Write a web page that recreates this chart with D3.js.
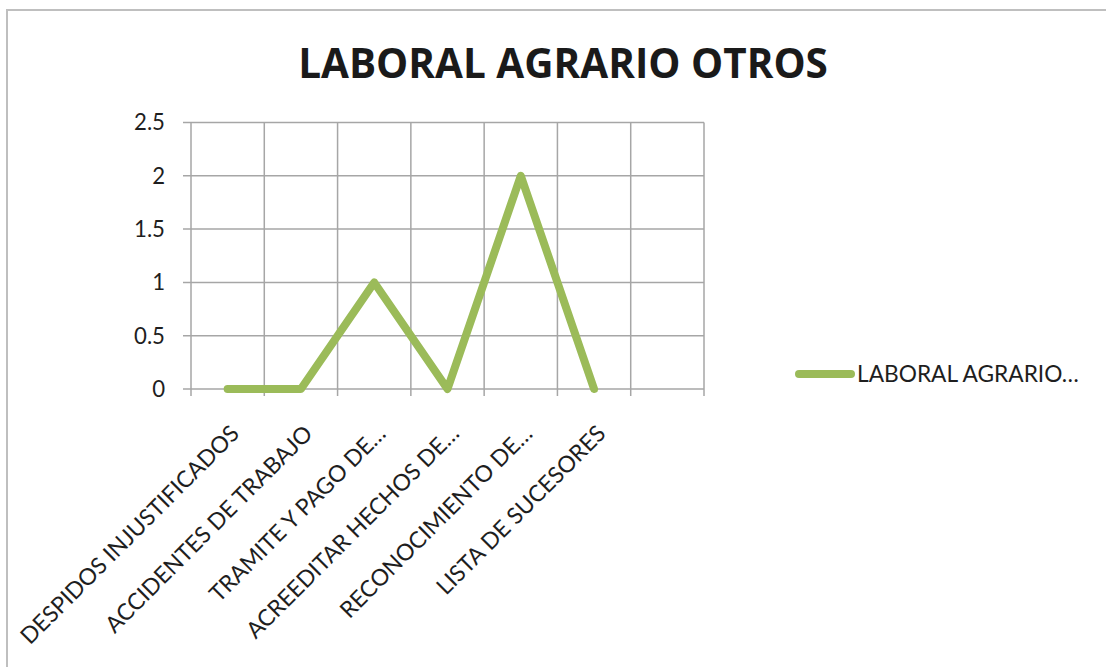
<!DOCTYPE html>
<html><head><meta charset="utf-8">
<script src="https://cdn.jsdelivr.net/npm/d3@7"></script>
<style>html,body{margin:0;padding:0;background:#fff;} svg{display:block;}</style>
</head><body>
<svg id="c" width="1106" height="667"></svg>
<script>
const categories = ["DESPIDOS INJUSTIFICADOS","ACCIDENTES DE TRABAJO","TRAMITE Y PAGO DE…","ACREEDITAR HECHOS DE…","RECONOCIMIENTO DE…","LISTA DE SUCESORES",""];
const values = [0,0,1,0,2,0];
const yTicks = [0,0.5,1,1.5,2,2.5];
const seriesName = "LABORAL AGRARIO…";
const title = "LABORAL AGRARIO OTROS";

const svg = d3.select("#c");
const font = "Lato, 'Open Sans', sans-serif";
const titleFont = "'Open Sans', 'Noto Sans', sans-serif";
const pL = 191, pR = 704, pT = 122.5, pB = 389;
const green = "#9BBB59", grid = "#A6A6A6";

// fit font size so a text node reaches a target width
function fit(sel, base, target){
  sel.attr("font-size", base);
  const w = sel.node().getComputedTextLength();
  const fs = base*target/w;
  sel.attr("font-size", fs);
  return fs;
}

svg.append("rect").attr("x",7).attr("y",10).attr("width",1120).attr("height",700)
  .attr("fill","#fff").attr("stroke","#BFBFBF").attr("stroke-width",2);

const x = d3.scaleBand().domain(d3.range(categories.length)).range([pL,pR]).paddingInner(0).paddingOuter(0);
const y = d3.scaleLinear().domain([0,2.5]).range([pB,pT]);

// horizontal grid
svg.append("g").selectAll("line").data(yTicks).join("line")
  .attr("x1",pL-8).attr("x2",pR).attr("y1",d=>y(d)).attr("y2",d=>y(d))
  .attr("stroke",grid).attr("stroke-width",1.5);
// vertical grid
const vx = d3.range(categories.length+1).map(i=> i<categories.length ? x(i) : pR);
svg.append("g").selectAll("line").data(vx).join("line")
  .attr("x1",d=>d).attr("x2",d=>d).attr("y1",pT).attr("y2",pB+7)
  .attr("stroke",grid).attr("stroke-width",1.5);

// y labels
const yl = svg.append("g").selectAll("text").data(yTicks).join("text")
  .attr("x",165).attr("y",d=>y(d)).attr("dy","0.36em").attr("text-anchor","end")
  .attr("font-family",font).attr("fill","#1e1e1e")
  .text(d=>d);
const yfs = fit(yl.filter(d=>d===2.5), 18, 31);
yl.attr("font-size", yfs);

// x labels
const xl = svg.append("g").selectAll("text").data(categories).join("text")
  .attr("text-anchor","end").attr("font-family",font).attr("fill","#1e1e1e")
  .attr("transform",(d,i)=>`translate(${x(i)+x.bandwidth()/2+13},${pB+46}) rotate(-45)`)
  .text(d=>d);
const xfs = fit(xl.filter((d,i)=>i===0), 18, 298);
xl.attr("font-size", xfs);

// line
const line = d3.line().x((d,i)=>x(i)+x.bandwidth()/2).y(d=>y(d));
svg.append("path").datum(values).attr("d",line).attr("fill","none")
  .attr("stroke",green).attr("stroke-width",8).attr("stroke-linejoin","round").attr("stroke-linecap","round");

// title
const t = svg.append("text").attr("x",563).attr("y",78).attr("text-anchor","middle")
  .attr("font-family",titleFont).attr("font-weight","bold").attr("fill","#1a1a1a").text(title);
fit(t, 44, 530);

// legend
svg.append("line").attr("x1",799).attr("x2",851).attr("y1",374).attr("y2",374)
  .attr("stroke",green).attr("stroke-width",8).attr("stroke-linecap","round");
const lt = svg.append("text").attr("x",857).attr("y",374).attr("dy","0.36em")
  .attr("font-family",font).attr("fill","#1e1e1e").text(seriesName);
fit(lt, 18, 222);
</script>
</body></html>
